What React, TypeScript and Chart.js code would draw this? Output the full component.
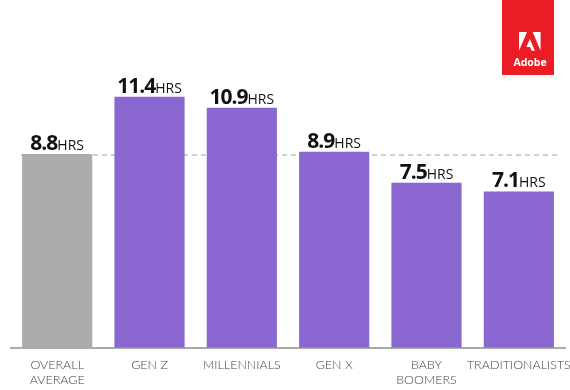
import React, { useEffect, useRef } from "react";
import { Chart, registerables } from "chart.js";

Chart.register(...registerables);

const categories: string[][] = [
  ["OVERALL", "AVERAGE"],
  ["GEN Z"],
  ["MILLENNIALS"],
  ["GEN X"],
  ["BABY", "BOOMERS"],
  ["TRADITIONALISTS"],
];
const hours: number[] = [8.8, 11.4, 10.9, 8.9, 7.5, 7.1];
const unitLabel = "HRS";
const averageHours = 8.8;
const barColors: string[] = ["#ababab", "#8a66d0", "#8a66d0", "#8a66d0", "#8a66d0", "#8a66d0"];

const valueLabelPlugin = {
  id: "valueLabels",
  beforeDatasetsDraw(chart: any) {
    const { ctx, chartArea } = chart;
    const y = chart.scales.y.getPixelForValue(averageHours);
    ctx.save();
    ctx.strokeStyle = "#cfcfcf";
    ctx.lineWidth = 2;
    ctx.setLineDash([5, 4]);
    ctx.beginPath();
    ctx.moveTo(chartArea.left + 10, Math.round(y) + 1);
    ctx.lineTo(chartArea.right - 8, Math.round(y) + 1);
    ctx.stroke();
    ctx.restore();
  },
  afterDatasetsDraw(chart: any) {
    const { ctx } = chart;
    const meta = chart.getDatasetMeta(0);
    ctx.save();
    ctx.fillStyle = "#111";
    ctx.textBaseline = "alphabetic";
    meta.data.forEach((bar: any, i: number) => {
      const num = hours[i].toFixed(1);
      ctx.font = "bold 21px 'Open Sans'";
      (ctx as any).letterSpacing = "-1px";
      const w1 = ctx.measureText(num).width;
      ctx.font = "14px 'Open Sans'";
      (ctx as any).letterSpacing = "0px";
      const w2 = ctx.measureText(unitLabel).width;
      const start = bar.x - (w1 + w2) / 2;
      const base = bar.y - 4;
      ctx.textAlign = "left";
      ctx.font = "bold 21px 'Open Sans'";
      (ctx as any).letterSpacing = "-1px";
      ctx.fillText(num, start, base);
      ctx.font = "14px 'Open Sans'";
      (ctx as any).letterSpacing = "0px";
      ctx.fillText(unitLabel, start + w1, base);
    });
    ctx.restore();
  },
  afterDraw(chart: any) {
    const { ctx } = chart;
    ctx.save();
    // Adobe badge
    ctx.fillStyle = "#ec1c24";
    ctx.fillRect(502, 0, 52, 75);
    ctx.fillStyle = "#ffffff";
    const ox = 519, oy = 32, s = 0.72;
    ctx.beginPath();
    ctx.moveTo(ox + 11.1 * s, oy);
    ctx.lineTo(ox, oy);
    ctx.lineTo(ox, oy + 26 * s);
    ctx.closePath();
    ctx.moveTo(ox + 19 * s, oy);
    ctx.lineTo(ox + 30 * s, oy);
    ctx.lineTo(ox + 30 * s, oy + 26 * s);
    ctx.closePath();
    ctx.moveTo(ox + 15.05 * s, oy + 9.58 * s);
    ctx.lineTo(ox + 22 * s, oy + 26 * s);
    ctx.lineTo(ox + 17.4 * s, oy + 26 * s);
    ctx.lineTo(ox + 15.3 * s, oy + 20.8 * s);
    ctx.lineTo(ox + 10.2 * s, oy + 20.8 * s);
    ctx.closePath();
    ctx.fill();
    ctx.font = "bold 10.5px 'Open Sans'";
    ctx.textAlign = "center";
    ctx.textBaseline = "alphabetic";
    ctx.fillText("Adobe", 530, 66);
    ctx.restore();
  },
};

export default function App() {
  const canvasRef = useRef<HTMLCanvasElement | null>(null);

  useEffect(() => {
    document.body.style.margin = "0";
    const canvas = canvasRef.current;
    if (!canvas) return;
    const chart = new Chart(canvas, {
      type: "bar",
      data: {
        labels: categories,
        datasets: [
          {
            data: hours,
            backgroundColor: barColors,
            borderWidth: 0,
            categoryPercentage: 1,
            barPercentage: 0.76,
          },
        ],
      },
      options: {
        animation: false,
        responsive: false,
        layout: { padding: { left: 11, right: 5, top: 0, bottom: -7 } },
        plugins: {
          legend: { display: false },
          tooltip: { enabled: false },
        },
        scales: {
          x: {
            grid: { display: false, drawTicks: false },
            border: { display: true, color: "#aaaaaa", width: 2 },
            ticks: {
              color: "#444444",
              font: { family: "Lato", size: 12.5, weight: 300, lineHeight: 1.25 },
              padding: 9,
              maxRotation: 0,
              autoSkip: false,
            },
            afterFit(scale: any) {
              scale.paddingLeft = 0;
              scale.paddingRight = 0;
            },
          },
          y: {
            display: false,
            min: 0,
            max: 15.8,
          },
        },
      },
      plugins: [valueLabelPlugin],
    });
    return () => chart.destroy();
  }, []);

  return (
    <div style={{ width: 570, height: 390 }}>
      <canvas ref={canvasRef} width={570} height={390} style={{ display: "block" }} />
    </div>
  );
}
